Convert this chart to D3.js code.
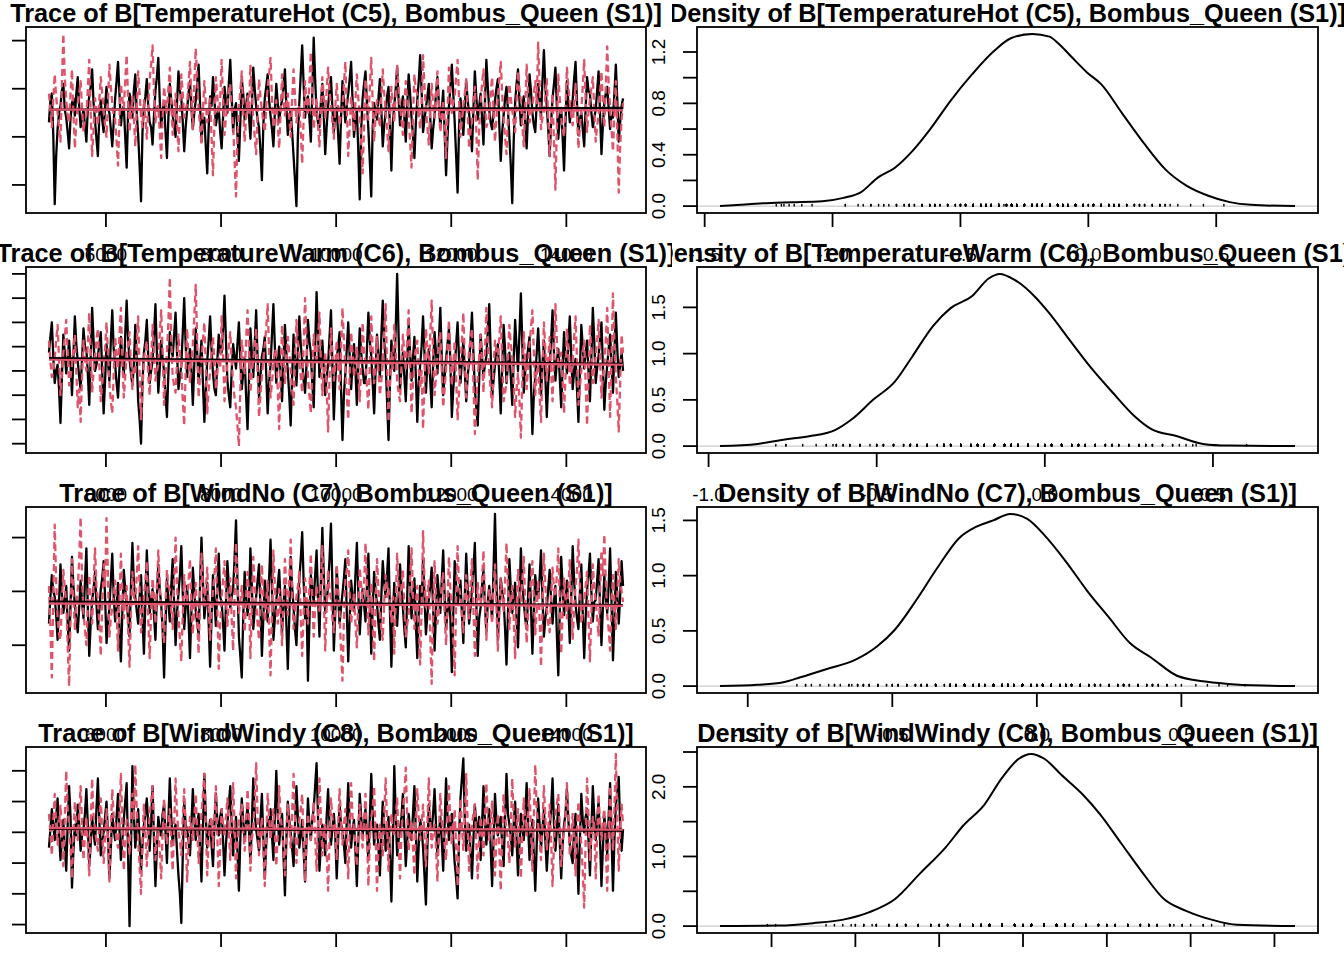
<!DOCTYPE html>
<html><head><meta charset="utf-8">
<script src="https://cdn.jsdelivr.net/npm/d3@7"></script>
<style>body{margin:0;background:#fff}svg{display:block}</style>
</head><body>
<svg id="c" width="1344" height="960"></svg>
<script>
// ---------------- DATA ----------------
const iterations = d3.range(5010, 15000, 25);           // thinned iteration index (400 samples per chain)
const iterTicks = [6000, 8000, 10000, 12000, 14000];
const iterTickLabels = ["6000", "8000", "10000", "12000", "14000"];
const paramNames = ["TemperatureHot (C5)", "TemperatureWarm (C6)", "WindNo (C7)", "WindWindy (C8)"];
const speciesName = "Bombus_Queen (S1)";

// ---- TemperatureHot (C5) ----
const chain1_P1 = [
-0.35,-0.12,-0.05,-0.48,-1.20,-0.70,-0.42,-0.25,-0.18,-0.02,0.05,-0.22,-0.30,-0.45,-0.62,-0.30,-0.15,-0.10,-0.28,-0.05,
0.12,-0.18,-0.40,-0.30,-0.22,-0.38,-0.55,-0.20,-0.08,0.02,0.20,-0.15,-0.33,-0.52,-0.70,-0.28,-0.12,-0.32,-0.45,-0.18,
0.02,-0.20,-0.25,-0.42,-0.60,-0.35,-0.10,0.08,0.28,-0.05,-0.38,-0.22,-0.18,-0.50,-0.82,-0.25,-0.05,-0.15,-0.30,-0.02,
0.15,-0.25,-0.48,-0.80,-1.17,-0.45,-0.20,-0.08,0.10,-0.18,-0.35,-0.40,-0.58,-0.28,-0.02,0.12,0.32,-0.12,-0.40,-0.22,
-0.15,-0.45,-0.72,-0.30,0.05,-0.12,-0.28,-0.38,-0.50,-0.15,0.18,-0.02,-0.10,-0.35,-0.65,-0.40,-0.22,-0.05,0.08,-0.20,
-0.42,-0.25,-0.12,0.05,0.25,-0.15,-0.55,-0.32,-0.30,-0.60,-0.88,-0.40,-0.08,-0.18,0.12,-0.10,-0.38,-0.28,-0.20,-0.45,
-0.62,-0.30,0.02,-0.12,-0.25,0.05,0.30,-0.08,-0.45,-0.22,-0.15,-0.48,-0.75,-0.35,0.10,-0.05,-0.32,-0.18,-0.05,-0.28,
-0.52,-0.20,0.22,0.00,-0.18,-0.32,-0.40,-0.65,-0.95,-0.38,-0.10,0.02,0.15,-0.12,-0.28,-0.42,-0.60,-0.25,0.05,-0.15,
-0.35,-0.20,-0.12,0.02,0.20,-0.18,-0.48,-0.30,-0.22,-0.45,-0.70,-0.95,-1.22,-0.50,-0.15,0.15,0.45,0.05,-0.30,-0.12,
-0.08,-0.30,-0.55,-0.05,0.53,0.10,-0.25,-0.35,-0.40,-0.15,0.05,-0.28,-0.68,-0.40,-0.18,-0.02,0.12,-0.20,-0.45,-0.28,
-0.20,-0.48,-0.78,-0.30,0.08,-0.15,-0.35,-0.18,-0.05,0.10,0.28,-0.12,-0.50,-0.32,-0.22,-0.65,-1.15,-0.42,-0.10,0.05,
0.18,-0.15,-0.42,-0.75,-1.12,-0.40,-0.15,-0.25,-0.32,-0.10,0.10,-0.22,-0.60,-0.38,-0.25,-0.08,0.02,-0.40,-0.85,-0.35,
-0.18,0.00,0.22,-0.10,-0.38,-0.20,-0.08,-0.30,-0.55,-0.18,0.15,-0.05,-0.30,-0.48,-0.72,-0.35,-0.12,0.08,0.35,-0.02,
-0.45,-0.32,-0.20,-0.08,0.05,-0.30,-0.62,-0.42,-0.28,-0.05,0.12,-0.15,-0.40,-0.22,-0.02,-0.45,-0.90,-0.50,-0.18,0.02,
0.25,-0.05,-0.35,-0.70,-1.08,-0.42,-0.10,-0.28,-0.48,-0.20,0.08,-0.12,-0.25,-0.45,-0.65,-0.22,0.18,-0.08,-0.32,-0.18,
-0.05,-0.30,-0.58,-0.15,0.30,0.02,-0.22,-0.35,-0.42,-0.25,-0.12,0.00,0.10,-0.38,-0.75,-0.45,-0.28,-0.10,0.02,-0.22,
-0.50,-0.80,-1.19,-0.55,-0.15,0.05,0.20,-0.12,-0.38,-0.20,-0.08,-0.35,-0.62,-0.25,0.15,-0.02,-0.25,-0.38,-0.45,-0.15,
0.05,-0.12,-0.30,0.08,0.40,0.02,-0.18,-0.42,-0.70,-0.35,-0.10,0.05,0.22,-0.18,-0.52,-0.30,-0.20,-0.50,-0.85,-0.35,
0.08,-0.15,-0.35,-0.22,-0.12,0.10,0.28,-0.15,-0.48,-0.32,-0.25,-0.42,-0.60,-0.20,0.12,-0.02,-0.05,-0.25,-0.40,-0.30,
-0.22,-0.02,0.18,-0.25,-0.68,-0.38,-0.15,-0.05,0.02,-0.20,-0.42,-0.28,-0.30,-0.05,0.25,-0.12,-0.55,-0.35,-0.18,-0.10];
const chain2_P1 = [
-0.05,-0.22,-0.40,-0.10,0.15,-0.08,-0.25,-0.42,-0.55,0.05,0.57,0.12,-0.12,-0.28,-0.35,-0.05,0.20,-0.25,-0.62,-0.35,
-0.18,-0.05,0.08,-0.20,-0.45,-0.32,-0.28,0.00,0.30,-0.25,-0.70,-0.42,-0.10,-0.22,-0.38,-0.12,0.12,-0.05,-0.22,-0.38,
-0.50,-0.15,0.25,0.02,-0.15,-0.28,-0.32,-0.55,-0.80,-0.30,0.05,-0.10,-0.20,0.08,0.35,-0.12,-0.45,-0.25,-0.08,-0.30,
-0.60,-0.22,0.18,-0.05,-0.28,-0.40,-0.12,-0.30,-0.52,-0.18,0.10,0.25,0.45,-0.02,-0.35,-0.20,-0.18,-0.45,-0.72,-0.30,
0.02,-0.15,-0.25,0.00,0.22,-0.18,-0.48,-0.22,-0.05,-0.35,-0.65,-0.28,0.15,-0.05,-0.30,-0.22,-0.15,0.05,0.28,-0.10,
-0.42,0.05,0.42,0.10,-0.20,-0.38,-0.58,-0.25,0.08,-0.15,-0.35,-0.22,-0.10,-0.50,-0.90,-0.35,0.12,-0.08,-0.25,-0.12,
0.30,-0.10,-0.48,-0.30,-0.15,-0.02,0.05,-0.20,-0.38,-0.75,-1.12,-0.50,-0.20,-0.02,0.18,-0.22,-0.55,-0.30,-0.08,-0.25,
0.25,-0.05,-0.32,-0.50,-0.68,-0.25,0.10,-0.08,-0.22,-0.35,-0.45,-0.20,0.02,0.15,0.32,-0.10,-0.40,-0.28,-0.12,-0.35,
-0.62,-0.25,0.15,-0.10,-0.28,-0.15,-0.05,-0.30,-0.50,-0.12,0.20,-0.08,-0.35,-0.22,-0.18,-0.45,-0.78,-0.32,0.08,-0.15,
-0.25,0.05,0.38,-0.05,-0.42,-0.25,-0.10,-0.38,-0.60,-0.22,0.12,-0.08,-0.30,-0.02,0.22,-0.05,-0.15,-0.35,-0.52,-0.20,
0.05,-0.18,-0.38,-0.25,-0.20,0.05,0.28,-0.22,-0.70,-0.40,-0.08,-0.25,-0.45,-0.12,0.15,-0.10,-0.25,-0.55,-0.88,-0.40,
0.10,-0.12,-0.32,0.00,0.32,-0.15,-0.55,-0.30,-0.12,-0.28,-0.40,-0.08,0.20,-0.05,-0.22,-0.42,-0.65,-0.30,0.02,-0.18,
-0.35,-0.05,0.25,0.00,-0.18,-0.32,-0.48,-0.15,0.08,-0.12,-0.28,-0.55,-0.82,-0.30,0.15,-0.02,-0.05,-0.25,-0.42,-0.20,
0.35,0.02,-0.20,-0.40,-0.58,-0.22,0.05,-0.15,-0.30,-0.05,0.18,-0.18,-0.45,-0.30,-0.12,-0.40,-0.72,-0.25,0.22,-0.08,
-0.25,-0.15,-0.08,0.12,0.30,-0.10,-0.50,-0.32,-0.18,-0.05,0.10,-0.25,-0.62,-0.45,-0.35,-0.12,0.02,-0.40,-0.95,-0.42,
-0.15,0.05,0.20,-0.12,-0.40,-0.35,-0.28,-0.05,0.12,-0.22,-0.55,-0.30,-0.08,0.10,0.28,-0.05,-0.32,-0.50,-0.68,-0.30,
0.05,-0.10,-0.22,-0.35,-0.45,-0.12,0.18,0.00,-0.12,-0.38,-0.60,-0.20,0.25,-0.05,-0.35,-0.28,-0.18,-0.05,0.08,-0.15,
0.48,0.05,-0.42,-0.30,-0.25,-0.08,0.10,-0.30,-0.70,-0.35,-0.05,-0.55,-1.05,-0.40,0.15,-0.10,-0.30,-0.42,-0.50,-0.20,
0.22,0.02,-0.15,-0.28,-0.38,-0.15,0.05,-0.30,-0.62,-0.40,-0.22,0.02,0.30,-0.12,-0.45,-0.25,-0.10,0.00,0.12,-0.22,
-0.55,-0.38,-0.28,-0.05,0.18,-0.15,-0.40,0.02,0.44,0.05,-0.20,-0.42,-0.65,-0.25,0.08,-0.45,-1.08,-0.60,-0.32,-0.15];
const lowess1_P1 = [-0.217, -0.210, -0.199];
const lowess2_P1 = [-0.217, -0.220, -0.224];
const densX_P1 = [-1.44,-1.242,-1.158,-1.04,-0.957,-0.89,-0.823,-0.756,-0.689,-0.621,-0.538,-0.454,-0.37,-0.303,-0.219,-0.152,-0.118,-0.068,-0.004,0.05,0.133,0.217,0.301,0.385,0.469,0.553,0.637,0.808];
const densY_P1 = [0,0.025,0.03,0.038,0.064,0.107,0.222,0.299,0.426,0.592,0.822,1.027,1.205,1.307,1.341,1.32,1.269,1.167,1.039,0.95,0.72,0.49,0.286,0.158,0.081,0.031,0.01,0];
const traceYTicks_P1 = [-1.0, -0.5, 0.0, 0.5];
const densXTicks_P1 = [-1.5, -1.0, -0.5, 0.0, 0.5];
const densXLabels_P1 = ["-1.5", "-1.0", "-0.5", "0.0", "0.5"];
const densYTicks_P1 = [0, 0.2, 0.4, 0.6, 0.8, 1.0, 1.2];
const densYLabelVals_P1 = [0, 0.4, 0.8, 1.2];
const densYLabels_P1 = ["0.0", "0.4", "0.8", "1.2"];

// ---- TemperatureWarm (C6) ----
const chain1_P2 = [
-0.05,0.08,0.20,-0.08,-0.30,-0.20,-0.15,-0.35,-0.63,-0.25,0.10,-0.05,-0.22,-0.10,0.05,-0.15,-0.40,-0.08,0.25,0.02,
-0.12,-0.25,-0.35,-0.10,0.15,0.00,-0.02,-0.22,-0.48,-0.10,0.32,0.05,-0.20,-0.15,-0.08,0.02,0.12,-0.20,-0.55,-0.28,
0.02,-0.12,-0.28,0.05,0.30,-0.02,-0.15,-0.30,-0.42,-0.18,0.08,-0.10,-0.25,0.10,0.38,0.05,-0.10,-0.22,-0.32,-0.15,
0.18,-0.10,-0.45,-0.60,-0.80,-0.30,-0.05,0.05,0.22,-0.08,-0.30,-0.20,-0.12,0.10,0.35,-0.05,-0.38,-0.18,0.05,-0.10,
-0.20,-0.40,-0.58,-0.22,0.12,-0.02,-0.08,0.10,0.28,-0.05,-0.35,-0.25,-0.15,0.12,0.40,0.02,-0.25,-0.12,-0.02,-0.18,
-0.48,-0.15,0.15,-0.05,-0.30,-0.12,0.05,-0.30,-0.62,-0.35,-0.12,0.05,0.25,-0.02,-0.22,-0.35,-0.40,-0.12,0.10,-0.05,
-0.05,0.15,0.42,0.05,-0.28,-0.40,-0.50,-0.20,0.02,-0.08,-0.18,0.02,0.20,-0.10,-0.35,-0.22,-0.10,-0.40,-0.68,-0.30,
0.15,-0.05,-0.25,0.02,0.30,-0.10,-0.42,-0.25,-0.08,-0.02,0.08,-0.22,-0.55,-0.30,-0.15,0.10,0.35,0.00,-0.30,-0.12,
0.00,-0.22,-0.45,-0.12,0.18,-0.05,-0.20,-0.40,-0.65,-0.25,0.10,-0.10,-0.32,-0.05,0.25,0.02,-0.12,-0.28,-0.38,-0.15,
0.22,0.05,-0.05,-0.30,-0.50,0.00,0.45,0.10,-0.25,-0.12,0.05,-0.18,-0.40,-0.25,-0.15,0.08,0.30,-0.15,-0.60,-0.28,
-0.10,0.00,0.12,-0.35,-0.77,-0.40,-0.22,-0.02,0.20,-0.08,-0.35,-0.15,0.02,-0.20,-0.48,-0.15,0.15,-0.05,-0.18,-0.30,
-0.30,-0.02,0.28,0.05,-0.08,-0.30,-0.55,-0.20,0.10,-0.10,-0.25,0.08,0.38,0.05,-0.12,-0.45,-0.77,-0.30,0.05,-0.10,
-0.20,0.15,0.60,0.10,-0.35,-0.18,-0.05,-0.25,-0.45,-0.12,0.18,-0.05,-0.28,-0.10,0.08,-0.25,-0.62,-0.30,-0.15,0.00,
0.25,-0.05,-0.38,-0.15,-0.02,-0.28,-0.50,-0.15,0.12,-0.05,-0.22,0.05,0.32,-0.08,-0.40,-0.25,-0.10,0.02,0.15,-0.12,
-0.58,-0.35,-0.18,0.02,0.20,-0.10,-0.30,-0.12,0.05,-0.20,-0.45,-0.25,-0.12,0.05,0.28,-0.05,-0.35,-0.50,-0.65,-0.28,
0.10,-0.08,-0.25,-0.15,-0.08,0.12,0.35,-0.05,-0.42,-0.28,-0.15,-0.02,0.02,-0.25,-0.55,-0.18,0.18,-0.02,-0.30,-0.15,
-0.05,-0.25,-0.48,-0.10,0.22,0.00,-0.20,0.10,0.44,0.02,-0.38,-0.20,-0.12,-0.02,0.08,-0.30,-0.72,-0.40,-0.25,-0.05,
0.15,-0.10,-0.40,-0.15,0.05,-0.25,-0.58,-0.30,-0.15,0.05,0.30,-0.05,-0.28,-0.12,-0.02,-0.25,-0.50,-0.18,0.12,-0.08,
-0.22,0.02,0.25,-0.08,-0.35,-0.20,-0.10,-0.35,-0.62,-0.20,0.18,0.00,-0.18,-0.05,0.05,-0.20,-0.45,-0.08,0.32,0.05,
-0.30,-0.18,-0.08,0.05,0.20,-0.15,-0.52,-0.30,-0.15,-0.02,0.10,-0.12,-0.38,-0.05,0.28,-0.02,-0.25,-0.15,-0.05,-0.20];
const chain2_P2 = [
0.05,-0.12,-0.25,-0.20,-0.10,0.05,0.18,-0.10,-0.40,-0.22,-0.05,0.08,0.22,-0.05,-0.32,-0.25,-0.15,-0.02,0.10,-0.20,
-0.50,-0.35,-0.62,-0.25,0.05,-0.10,-0.20,0.02,0.28,-0.05,-0.38,-0.20,-0.08,0.05,0.15,-0.15,-0.45,-0.30,-0.12,-0.02,
0.20,-0.05,-0.30,-0.45,-0.55,-0.22,0.08,-0.08,-0.18,0.10,0.32,-0.10,-0.42,-0.25,-0.05,0.02,0.12,-0.15,-0.35,-0.18,
-0.22,0.02,0.25,-0.20,-0.60,-0.35,-0.10,-0.02,0.05,-0.25,-0.40,-0.12,0.18,-0.05,-0.28,-0.20,-0.15,0.10,0.30,-0.05,
-0.48,-0.22,-0.05,0.20,0.57,0.05,-0.25,-0.32,-0.38,-0.12,0.10,-0.05,-0.18,-0.45,-0.65,-0.20,0.15,-0.10,-0.30,-0.12,
0.02,0.25,0.51,0.05,-0.42,-0.25,-0.12,0.05,0.20,-0.15,-0.55,-0.35,-0.20,-0.05,0.08,-0.12,-0.35,-0.22,-0.08,-0.18,
0.25,-0.05,-0.45,-0.28,-0.15,0.00,0.12,-0.12,-0.30,-0.42,-0.50,-0.65,-0.82,-0.35,0.05,-0.08,-0.22,0.05,0.30,0.00,
-0.38,-0.22,-0.10,0.02,0.15,-0.20,-0.58,-0.40,-0.25,-0.10,0.02,0.15,0.35,-0.05,-0.42,-0.30,-0.15,-0.02,-0.05,-0.35,
-0.68,-0.25,0.18,-0.08,-0.30,-0.15,0.08,-0.05,-0.20,-0.35,-0.48,-0.12,0.22,0.02,-0.12,-0.25,-0.38,0.02,0.40,0.05,
-0.25,-0.40,-0.55,-0.20,0.10,-0.05,-0.15,0.05,0.28,-0.10,-0.40,-0.22,-0.05,-0.35,-0.70,-0.25,0.15,-0.08,-0.28,-0.15,
0.05,-0.15,-0.35,-0.02,0.32,0.05,-0.18,-0.40,-0.60,-0.22,0.12,-0.05,-0.25,-0.12,0.00,-0.22,-0.45,-0.15,0.20,-0.05,
-0.12,-0.32,-0.52,-0.15,0.25,-0.02,-0.30,-0.12,0.08,-0.20,-0.40,-0.28,-0.15,0.12,0.35,-0.15,-0.62,-0.30,-0.05,-0.18,
0.18,-0.05,-0.28,-0.38,-0.45,-0.15,0.10,-0.05,-0.20,0.05,0.30,-0.12,-0.55,-0.30,-0.10,-0.02,0.05,-0.18,-0.35,-0.20,
-0.68,-0.30,0.15,-0.02,-0.22,0.10,0.38,-0.05,-0.40,-0.25,-0.08,0.02,0.12,-0.20,-0.50,-0.35,-0.18,0.00,0.22,-0.08,
-0.32,-0.15,0.05,-0.25,-0.60,-0.38,-0.15,0.05,0.28,-0.08,-0.42,-0.20,-0.02,0.05,0.15,-0.30,-0.72,-0.45,-0.25,-0.10,
0.10,-0.12,-0.38,-0.05,0.32,0.05,-0.20,-0.35,-0.50,-0.18,0.05,-0.02,-0.12,0.08,0.25,-0.12,-0.45,-0.38,-0.30,-0.10,
0.18,0.02,-0.08,-0.30,-0.58,-0.35,-0.22,-0.45,-0.75,-0.30,0.12,-0.10,-0.35,-0.15,0.02,0.15,0.30,-0.05,-0.40,-0.22,
-0.15,-0.40,-0.62,-0.20,0.20,-0.02,-0.28,-0.10,0.08,-0.20,-0.45,-0.05,0.35,0.05,-0.18,-0.12,-0.05,-0.30,-0.55,-0.25,
0.15,-0.05,-0.32,-0.22,-0.12,0.08,0.25,-0.12,-0.48,-0.35,-0.20,-0.05,0.05,-0.30,-0.65,-0.25,0.18,-0.05,-0.30,-0.18,
-0.08,0.05,0.22,-0.10,-0.42,-0.25,-0.15,0.05,0.32,-0.15,-0.58,-0.10,0.44,0.05,-0.25,-0.45,-0.70,-0.30,0.10,-0.05];
const lowess1_P2 = [-0.094, -0.118, -0.141];
const lowess2_P2 = [-0.108, -0.130, -0.149];
const densX_P2 = [-0.966,-0.854,-0.777,-0.701,-0.624,-0.574,-0.51,-0.446,-0.395,-0.332,-0.281,-0.217,-0.166,-0.134,-0.09,-0.026,0.012,0.075,0.139,0.203,0.266,0.317,0.394,0.47,0.546,0.744];
const densY_P2 = [0,0.024,0.07,0.106,0.173,0.29,0.503,0.698,0.964,1.301,1.489,1.62,1.815,1.862,1.798,1.602,1.443,1.141,0.84,0.574,0.326,0.184,0.106,0.024,0.006,0];
const traceYTicks_P2 = [-0.8, -0.6, -0.4, -0.2, 0.0, 0.2, 0.4, 0.6];
const densXTicks_P2 = [-1.0, -0.5, 0.0, 0.5];
const densXLabels_P2 = ["-1.0", "-0.5", "0.0", "0.5"];
const densYTicks_P2 = [0, 0.5, 1.0, 1.5];
const densYLabelVals_P2 = [0, 0.5, 1.0, 1.5];
const densYLabels_P2 = ["0.0", "0.5", "1.0", "1.5"];

// ---- WindNo (C7) ----
const chain1_P3 = [
-0.30,-0.05,0.15,0.00,-0.05,-0.22,-0.45,-0.10,0.25,-0.02,-0.20,-0.08,0.05,-0.30,-0.55,-0.12,0.32,0.05,-0.12,-0.25,
-0.38,-0.15,0.10,-0.10,-0.25,0.08,0.40,-0.15,-0.60,-0.30,-0.08,0.02,0.18,-0.12,-0.35,-0.18,0.02,0.12,0.28,-0.05,
-0.48,-0.30,-0.15,0.10,0.35,-0.05,-0.28,-0.12,0.08,-0.35,-0.65,-0.20,0.20,0.02,-0.10,-0.25,-0.42,0.05,0.45,0.08,
-0.05,-0.18,-0.30,-0.05,0.15,-0.25,-0.58,-0.10,0.38,0.05,-0.20,-0.08,0.02,-0.22,-0.45,-0.05,0.25,0.02,-0.12,-0.35,
-0.80,-0.30,0.12,-0.10,-0.28,0.05,0.30,-0.12,-0.50,-0.20,-0.02,0.15,0.42,-0.02,-0.35,-0.15,0.05,-0.25,-0.62,-0.20,
0.22,0.00,-0.18,-0.30,-0.40,0.05,0.50,0.10,-0.25,-0.10,0.08,-0.30,-0.70,-0.25,0.15,-0.08,-0.32,0.02,0.35,-0.05,
-0.10,-0.30,-0.55,-0.12,0.28,0.05,-0.15,-0.05,0.02,0.30,0.66,0.10,-0.42,-0.60,-0.80,-0.25,0.18,-0.05,-0.22,-0.10,
0.40,0.05,-0.35,-0.18,-0.05,0.10,0.25,-0.15,-0.60,-0.25,0.10,-0.05,-0.28,0.12,0.48,0.02,-0.45,-0.25,-0.08,0.05,
0.20,-0.10,-0.38,-0.12,0.05,-0.30,-0.72,-0.25,0.32,0.05,-0.15,-0.35,-0.50,-0.15,0.12,0.30,0.55,0.10,-0.25,-0.08,
-0.83,-0.30,0.15,0.02,-0.10,0.15,0.38,-0.05,-0.42,0.10,0.59,0.15,-0.20,-0.10,0.05,0.30,0.63,0.05,-0.55,-0.20,
0.22,-0.05,-0.30,-0.15,-0.02,0.12,0.30,-0.20,-0.65,-0.25,0.10,-0.05,-0.18,0.15,0.45,0.00,-0.40,-0.15,0.02,-0.12,
-0.28,0.05,0.35,-0.10,-0.58,-0.15,0.18,0.02,-0.12,-0.30,-0.45,-0.05,0.28,0.08,-0.05,0.15,0.40,-0.20,-0.70,-0.25,
0.08,-0.10,-0.32,-0.05,0.25,0.02,-0.15,-0.35,-0.52,-0.05,0.42,0.05,-0.25,-0.05,0.12,-0.30,-0.62,-0.20,0.05,-0.12,
0.30,-0.05,-0.40,-0.22,-0.08,0.05,0.22,-0.15,-0.55,-0.20,0.15,-0.02,-0.20,0.10,0.38,-0.05,-0.35,-0.18,-0.02,-0.25,
-0.75,-0.20,0.28,0.05,-0.12,-0.02,0.10,-0.20,-0.48,-0.05,0.35,0.02,-0.30,-0.15,0.02,0.20,0.45,-0.10,-0.60,-0.25,
-0.15,0.05,0.20,-0.12,-0.38,-0.10,0.05,-0.12,-0.25,0.20,0.72,0.10,-0.45,-0.15,0.12,0.00,-0.08,-0.35,-0.68,-0.22,
0.30,0.02,-0.20,-0.05,0.08,-0.25,-0.52,-0.10,0.40,0.05,-0.10,-0.25,-0.35,-0.05,0.25,-0.15,-0.58,-0.20,0.15,-0.02,
-0.05,0.12,0.38,-0.05,-0.42,-0.25,-0.15,0.02,0.20,-0.08,-0.30,-0.10,0.05,-0.40,-0.78,-0.20,0.32,0.05,-0.22,-0.10,
0.10,-0.15,-0.48,-0.05,0.42,0.10,-0.12,-0.25,-0.35,-0.02,0.25,-0.20,-0.62,-0.25,0.02,0.15,0.35,0.00,-0.28,-0.10,
-0.08,0.10,0.30,-0.12,-0.50,-0.15,0.15,-0.05,-0.20,0.05,0.40,-0.10,-0.64,-0.25,0.18,-0.05,-0.30,-0.05,0.28,0.05];
const chain2_P3 = [
0.05,-0.35,-0.80,-0.05,0.62,0.10,-0.25,-0.40,-0.45,-0.10,0.20,0.02,-0.10,-0.50,-0.88,-0.25,0.30,-0.05,-0.35,-0.15,
0.02,0.30,0.69,0.10,-0.20,-0.35,-0.50,-0.15,0.15,-0.08,-0.30,0.05,0.40,0.05,-0.08,-0.30,-0.60,-0.15,0.25,0.05,
0.68,0.15,-0.42,-0.25,-0.15,-0.02,0.10,-0.20,-0.55,-0.10,0.35,0.02,-0.25,-0.08,0.05,-0.35,-0.70,-0.20,0.18,-0.05,
-0.12,0.15,0.42,0.02,-0.38,-0.20,-0.05,0.10,0.28,-0.25,-0.62,-0.20,0.12,-0.05,-0.30,0.05,0.38,0.05,-0.18,-0.35,
-0.48,-0.10,0.20,0.05,0.02,-0.18,-0.35,0.10,0.50,0.05,-0.22,-0.45,-0.65,-0.20,0.15,-0.05,-0.10,0.10,0.30,-0.10,
-0.40,-0.12,0.08,-0.25,-0.58,-0.10,0.35,0.05,-0.15,0.02,0.22,-0.15,-0.45,-0.20,0.02,0.15,0.40,-0.15,-0.72,-0.30,
-0.05,0.10,0.28,-0.05,-0.32,-0.10,0.12,-0.25,-0.55,-0.05,0.45,0.10,-0.20,-0.10,0.05,-0.15,-0.38,-0.08,0.18,-0.02,
-0.62,-0.15,0.32,0.05,-0.10,-0.30,-0.45,-0.05,0.25,-0.05,-0.28,-0.10,0.10,-0.35,-0.78,-0.20,0.38,0.05,-0.15,-0.30,
0.02,-0.20,-0.50,-0.10,0.30,0.05,-0.22,0.10,0.48,0.02,-0.35,-0.20,-0.05,0.05,0.18,-0.25,-0.60,-0.20,0.12,-0.05,
-0.30,0.02,0.35,-0.05,-0.42,-0.15,0.05,-0.05,-0.18,0.10,0.42,-0.05,-0.55,-0.15,0.20,0.02,-0.08,-0.25,-0.38,-0.12,
0.25,0.02,-0.20,-0.55,-0.83,-0.25,0.10,0.20,0.38,-0.02,-0.30,-0.15,-0.02,-0.30,-0.52,-0.10,0.22,0.05,-0.12,0.05,
0.45,0.05,-0.40,-0.12,0.08,-0.30,-0.65,-0.15,0.30,0.02,-0.18,-0.35,-0.45,-0.10,0.15,-0.05,0.02,-0.12,-0.28,-0.05,
-0.58,-0.10,0.35,0.05,-0.10,0.05,0.20,-0.15,-0.42,-0.30,-0.22,0.10,0.40,-0.02,-0.35,-0.12,0.05,-0.30,-0.68,-0.15,
0.56,0.10,-0.15,-0.02,0.10,-0.40,-0.86,-0.20,0.28,-0.05,-0.30,-0.18,-0.08,0.05,0.18,-0.20,-0.50,-0.10,0.32,0.02,
-0.20,-0.45,-0.78,-0.10,0.42,0.05,-0.05,-0.22,-0.38,-0.10,0.15,-0.08,-0.25,0.05,0.30,-0.15,-0.60,-0.25,0.08,-0.10,
-0.12,0.10,0.38,-0.05,-0.45,-0.15,0.02,-0.12,-0.30,0.02,0.25,-0.15,-0.55,-0.20,0.12,-0.05,-0.18,0.10,0.45,0.05,
-0.35,-0.12,0.05,-0.25,-0.62,-0.15,0.20,0.02,-0.10,0.10,0.32,-0.10,-0.48,-0.22,-0.02,0.10,0.28,-0.05,-0.40,-0.18,
0.10,-0.25,-0.70,-0.15,0.35,0.05,-0.15,-0.30,-0.38,-0.05,0.22,0.02,-0.05,0.15,0.40,-0.10,-0.58,-0.20,0.12,-0.05,
-0.25,0.02,0.30,-0.10,-0.45,-0.15,0.05,0.20,0.48,0.05,-0.30,-0.20,-0.12,0.05,0.18,-0.25,-0.65,-0.20,0.25,0.02,
-0.08,-0.25,-0.42,-0.02,0.38,0.15,0.53,0.10,-0.22,-0.35,-0.55,-0.15,0.15,-0.10,-0.35,-0.05,0.30,0.10,0.00,-0.10];
const lowess1_P3 = [-0.094, -0.111, -0.128];
const lowess2_P3 = [-0.113, -0.124, -0.134];
const densX_P3 = [-1.096,-0.966,-0.877,-0.818,-0.729,-0.625,-0.552,-0.492,-0.418,-0.344,-0.27,-0.211,-0.151,-0.092,-0.033,0.026,0.1,0.174,0.248,0.322,0.396,0.485,0.574,0.663,0.782,0.893];
const densY_P3 = [0,0.012,0.035,0.08,0.153,0.242,0.361,0.508,0.775,1.071,1.337,1.441,1.5,1.559,1.514,1.367,1.13,0.863,0.626,0.39,0.257,0.094,0.044,0.02,0.005,0];
const traceYTicks_P3 = [-0.5, 0.0, 0.5];
const densXTicks_P3 = [-1.0, -0.5, 0.0, 0.5];
const densXLabels_P3 = ["-1.0", "-0.5", "0.0", "0.5"];
const densYTicks_P3 = [0, 0.5, 1.0, 1.5];
const densYLabelVals_P3 = [0, 0.5, 1.0, 1.5];
const densYLabels_P3 = ["0.0", "0.5", "1.0", "1.5"];

// ---- WindWindy (C8) ----
const chain1_P4 = [
-0.10,0.02,0.15,0.05,-0.05,0.10,0.22,0.00,-0.18,-0.05,0.08,-0.10,-0.25,0.05,0.30,0.10,-0.36,-0.12,0.05,-0.02,
0.18,0.05,-0.12,-0.02,0.02,0.12,0.28,0.05,-0.22,-0.08,0.10,0.00,-0.08,0.15,0.35,0.08,-0.15,-0.05,0.00,0.10,
0.20,-0.02,-0.30,-0.10,0.12,0.02,-0.05,0.10,0.25,0.02,-0.18,-0.05,0.08,0.20,0.32,-0.15,-0.61,-0.10,0.43,0.12,
-0.10,0.02,0.15,-0.05,-0.25,-0.08,0.05,0.12,0.22,0.05,-0.12,0.08,0.30,-0.05,-0.35,-0.10,0.10,0.02,-0.02,0.12,
0.18,0.00,-0.20,0.08,0.35,0.10,-0.08,0.02,0.05,-0.12,-0.28,-0.40,-0.59,-0.15,0.20,0.05,0.02,-0.05,-0.15,0.05,
0.28,0.10,-0.05,0.05,0.12,-0.10,-0.32,0.02,0.38,0.10,-0.10,0.00,0.08,-0.08,-0.22,0.05,0.25,0.08,-0.02,0.10,
0.15,-0.05,-0.28,-0.08,0.05,0.18,0.30,0.05,-0.15,-0.02,0.10,-0.12,-0.38,-0.05,0.22,0.08,-0.05,0.05,0.18,0.02,
-0.20,0.05,0.35,0.12,0.02,-0.05,-0.12,0.08,0.25,-0.05,-0.30,-0.08,0.08,0.02,0.15,-0.02,-0.18,0.10,0.40,0.12,
-0.08,0.05,0.12,-0.15,-0.41,-0.05,0.20,0.08,0.00,-0.10,-0.22,0.05,0.30,0.10,-0.10,-0.02,0.08,-0.12,-0.32,-0.05,
0.22,0.05,-0.05,0.08,0.15,0.30,0.45,0.10,-0.25,-0.08,0.05,-0.02,-0.15,0.10,0.28,0.05,-0.08,0.02,0.12,-0.02,
-0.30,-0.05,0.18,0.05,0.02,-0.08,-0.20,0.08,0.32,0.05,-0.10,0.02,0.08,-0.12,-0.35,-0.05,0.25,0.10,-0.02,0.05,
0.15,-0.02,-0.18,0.10,0.38,0.12,-0.08,0.02,0.05,-0.10,-0.28,-0.02,0.20,0.05,-0.12,-0.02,0.10,-0.15,-0.45,-0.10,
0.43,0.12,-0.15,-0.05,0.02,0.10,0.25,0.02,-0.22,-0.05,0.12,0.02,-0.05,0.12,0.30,0.00,-0.32,-0.08,0.08,0.02,
-0.10,-0.28,-0.47,-0.10,0.18,0.05,0.02,0.12,0.28,0.05,-0.15,-0.02,0.10,-0.05,-0.25,0.05,0.35,0.10,-0.05,0.08,
0.12,-0.05,-0.20,-0.30,-0.43,-0.05,0.22,0.35,0.48,0.10,-0.12,-0.02,0.05,-0.12,-0.30,-0.05,0.18,0.05,0.00,0.10,
-0.18,0.05,0.30,0.08,-0.08,0.05,0.15,-0.10,-0.35,-0.05,0.25,0.08,-0.02,0.05,0.10,-0.08,-0.22,0.10,0.38,0.12,
0.05,-0.02,-0.15,0.05,0.20,-0.05,-0.28,-0.08,0.12,0.02,-0.05,0.10,0.32,0.05,-0.18,-0.02,0.08,-0.15,-0.38,-0.08,
0.22,0.05,-0.10,0.02,0.15,-0.05,-0.25,-0.08,0.02,0.15,0.35,0.05,-0.12,0.02,0.18,-0.05,-0.30,-0.08,0.05,0.12,
0.28,0.08,-0.08,-0.15,-0.20,0.02,0.12,-0.12,-0.40,-0.05,0.25,0.08,0.00,0.10,0.15,-0.05,-0.28,0.02,0.30,0.10,
-0.05,0.08,0.20,-0.05,-0.35,-0.10,0.10,0.02,-0.15,0.10,0.32,-0.02,-0.38,-0.05,0.18,0.25,0.36,0.05,-0.12,0.02];
const chain2_P4 = [
0.12,0.00,-0.15,0.08,0.25,0.05,-0.08,0.05,0.18,-0.02,-0.22,0.10,0.40,0.15,0.05,-0.10,-0.30,-0.02,0.20,0.05,
-0.05,0.12,0.30,0.05,-0.18,-0.02,0.10,-0.08,-0.28,0.05,0.35,0.10,0.02,-0.05,-0.12,0.08,0.22,0.00,-0.20,-0.05,
0.15,-0.05,-0.32,0.02,0.28,0.10,0.05,-0.05,-0.10,0.12,0.38,0.05,-0.25,-0.05,0.08,-0.02,-0.15,0.10,0.25,0.08,
0.44,0.15,-0.05,-0.22,-0.40,-0.05,0.18,0.02,-0.22,-0.05,0.12,0.20,0.30,0.05,-0.18,-0.05,0.02,-0.12,-0.30,0.00,
0.22,0.05,-0.08,0.05,0.15,-0.08,-0.25,0.05,0.35,0.12,0.00,-0.05,-0.15,0.10,0.28,0.02,-0.32,-0.10,0.10,0.02,
-0.05,0.10,0.25,0.02,-0.20,-0.05,0.12,0.25,0.38,0.05,-0.28,-0.05,0.05,0.10,-0.10,0.08,0.30,-0.02,-0.35,-0.10,
0.15,0.05,-0.02,0.10,0.22,0.02,-0.18,0.08,0.32,0.05,-0.30,-0.05,0.08,0.12,0.18,0.02,-0.12,0.05,0.28,0.10,
-0.25,-0.05,0.05,0.20,0.45,0.10,-0.15,-0.02,0.10,-0.12,-0.35,-0.05,0.25,0.10,-0.05,0.05,0.15,0.00,-0.22,-0.02,
0.30,0.10,0.02,-0.10,-0.28,0.02,0.18,0.05,-0.10,0.12,0.38,0.08,-0.20,-0.02,0.08,0.15,0.25,-0.05,-0.32,-0.05,
0.12,0.02,-0.05,0.08,0.20,-0.02,-0.25,0.05,0.35,0.10,-0.15,-0.02,0.05,-0.12,-0.38,-0.05,0.22,0.10,0.00,0.05,
-0.18,0.05,0.28,0.08,-0.08,0.05,0.15,-0.05,-0.30,0.02,0.32,0.10,0.02,-0.08,-0.22,0.05,0.18,0.02,-0.10,0.08,
0.25,-0.02,-0.35,-0.05,0.10,0.15,0.30,-0.02,-0.38,-0.10,0.05,-0.05,-0.15,0.12,0.35,0.05,-0.25,-0.05,0.12,0.02,
-0.02,0.10,0.22,-0.05,-0.30,0.00,0.15,0.25,0.42,0.10,-0.12,0.02,0.08,-0.10,-0.28,0.05,0.28,0.10,-0.05,0.05,
0.18,-0.02,-0.22,0.05,0.35,0.08,-0.10,0.02,0.05,-0.10,-0.32,0.00,0.25,0.08,0.00,-0.08,-0.18,0.10,0.30,0.05,
-0.08,0.05,0.15,-0.10,-0.35,-0.02,0.22,0.05,-0.12,0.10,0.38,0.05,-0.25,-0.05,0.05,0.12,0.18,-0.05,-0.30,-0.05,
0.10,-0.02,-0.15,0.10,0.32,0.08,-0.05,0.05,0.20,-0.02,-0.28,-0.05,0.12,-0.10,-0.38,-0.05,0.25,0.10,0.02,-0.05,
-0.20,0.05,0.35,0.10,-0.10,0.02,0.15,-0.05,-0.30,-0.02,0.22,0.08,-0.02,0.10,0.28,0.02,-0.25,0.10,0.44,0.15,
0.05,-0.05,-0.18,0.05,0.30,0.10,-0.12,0.02,0.18,-0.05,-0.35,-0.08,0.10,0.18,0.25,0.05,-0.22,-0.05,0.00,0.10,
0.32,0.08,-0.15,-0.02,0.12,-0.05,-0.28,0.02,0.20,0.05,-0.08,-0.25,-0.49,-0.05,0.35,0.10,-0.18,-0.02,0.10,0.05,
-0.30,-0.02,0.25,0.05,-0.05,0.08,0.15,-0.10,-0.38,-0.05,0.30,0.08,-0.12,0.15,0.51,0.10,-0.25,0.02,0.18,0.05];
const lowess1_P4 = [0.023, 0.016, 0.010];
const lowess2_P4 = [0.028, 0.022, 0.017];
const densX_P4 = [-0.723,-0.582,-0.501,-0.429,-0.368,-0.306,-0.245,-0.184,-0.143,-0.092,-0.051,-0.01,0.019,0.051,0.092,0.143,0.184,0.235,0.286,0.337,0.389,0.45,0.511,0.649];
const densY_P4 = [0,0.008,0.042,0.093,0.197,0.385,0.761,1.135,1.441,1.746,2.121,2.403,2.473,2.403,2.169,1.887,1.606,1.183,0.761,0.385,0.22,0.093,0.018,0];
const traceYTicks_P4 = [-0.6, -0.4, -0.2, 0.0, 0.2, 0.4];
const densXTicks_P4 = [-0.6, -0.4, -0.2, 0.0, 0.2, 0.4, 0.6];
const densXLabels_P4 = ["-0.6", "-0.4", "-0.2", "0.0", "0.2", "0.4", "0.6"];
const densYTicks_P4 = [0, 0.5, 1.0, 1.5, 2.0, 2.5];
const densYLabelVals_P4 = [0, 1.0, 2.0];
const densYLabels_P4 = ["0.0", "1.0", "2.0"];

// ---------------- LAYOUT ----------------
const W = 1344, H = 960, CELL_H = 240;
const BOX_T = 27, BOX_B = 213;
const TR_L = 26, TR_R = 646, DN_L = 697, DN_R = 1318;
const TICK = 14;
const RED = "#DF536B";
const FONT = "'Liberation Sans', Arial, Helvetica, sans-serif";
const TITLE_SIZE = 25.3, AXIS_SIZE = 19;
const TRACE_W = 2.3;

const panels = [
  {name: paramNames[0], c1: chain1_P1, c2: chain2_P1, lw1: lowess1_P1, lw2: lowess2_P1, dx: densX_P1, dy: densY_P1,
   tyt: traceYTicks_P1, dxt: densXTicks_P1, dxl: densXLabels_P1, dyt: densYTicks_P1, dylv: densYLabelVals_P1, dyl: densYLabels_P1},
  {name: paramNames[1], c1: chain1_P2, c2: chain2_P2, lw1: lowess1_P2, lw2: lowess2_P2, dx: densX_P2, dy: densY_P2,
   tyt: traceYTicks_P2, dxt: densXTicks_P2, dxl: densXLabels_P2, dyt: densYTicks_P2, dylv: densYLabelVals_P2, dyl: densYLabels_P2},
  {name: paramNames[2], c1: chain1_P3, c2: chain2_P3, lw1: lowess1_P3, lw2: lowess2_P3, dx: densX_P3, dy: densY_P3,
   tyt: traceYTicks_P3, dxt: densXTicks_P3, dxl: densXLabels_P3, dyt: densYTicks_P3, dylv: densYLabelVals_P3, dyl: densYLabels_P3},
  {name: paramNames[3], c1: chain1_P4, c2: chain2_P4, lw1: lowess1_P4, lw2: lowess2_P4, dx: densX_P4, dy: densY_P4,
   tyt: traceYTicks_P4, dxt: densXTicks_P4, dxl: densXLabels_P4, dyt: densYTicks_P4, dylv: densYLabelVals_P4, dyl: densYLabels_P4}
];

function pad(ext) { const r = ext[1] - ext[0]; return [ext[0] - 0.04 * r, ext[1] + 0.04 * r]; }

const svg = d3.select("#c");
svg.append("rect").attr("width", W).attr("height", H).attr("fill", "#fff");
const defs = svg.append("defs");
defs.append("clipPath").attr("id", "clipL").append("rect").attr("x", 0).attr("y", 0).attr("width", 672).attr("height", H);
defs.append("clipPath").attr("id", "clipR").append("rect").attr("x", 672).attr("y", 0).attr("width", 672).attr("height", H);

const xTrace = d3.scaleLinear().domain(pad(d3.extent(iterations))).range([TR_L, TR_R]);
const lowessIters = [iterations[0], (iterations[0] + iterations[iterations.length - 1]) / 2, iterations[iterations.length - 1]];

panels.forEach((p, r) => {
  const g = svg.append("g").attr("transform", `translate(0,${r * CELL_H})`);
  const yTrace = d3.scaleLinear().domain(pad(d3.extent(p.c1.concat(p.c2)))).range([BOX_B, BOX_T]);
  const xDen = d3.scaleLinear().domain(pad(d3.extent(p.dx))).range([DN_L, DN_R]);
  const dMax = d3.max(p.dy);
  const yDen = d3.scaleLinear().domain(pad([0, dMax])).range([BOX_B, BOX_T]);

  // ---- trace panel ----
  const tline = d3.line().x((d, i) => xTrace(iterations[i])).y(d => yTrace(d));
  g.append("path").attr("d", tline(p.c1)).attr("fill", "none").attr("stroke", "#000")
    .attr("stroke-width", TRACE_W).attr("stroke-linejoin", "round");
  g.append("path").attr("d", tline(p.c2)).attr("fill", "none").attr("stroke", RED)
    .attr("stroke-width", TRACE_W).attr("stroke-dasharray", "7,4").attr("stroke-linejoin", "round");
  const lline = d3.line().x((d, i) => xTrace(lowessIters[i])).y(d => yTrace(d)).curve(d3.curveMonotoneX);
  g.append("path").attr("d", lline(p.lw1)).attr("fill", "none").attr("stroke", "#000").attr("stroke-width", 2.2);
  g.append("path").attr("d", lline(p.lw2)).attr("fill", "none").attr("stroke", RED).attr("stroke-width", 2.2);

  g.append("rect").attr("x", TR_L).attr("y", BOX_T).attr("width", TR_R - TR_L).attr("height", BOX_B - BOX_T)
    .attr("fill", "none").attr("stroke", "#000").attr("stroke-width", 1.8);
  // y ticks (their labels fall outside the page, as in the original)
  g.selectAll(null).data(p.tyt).enter().append("line")
    .attr("x1", TR_L - TICK).attr("x2", TR_L).attr("y1", d => yTrace(d)).attr("y2", d => yTrace(d))
    .attr("stroke", "#000").attr("stroke-width", 1.8);
  // x ticks
  g.selectAll(null).data(iterTicks).enter().append("line")
    .attr("x1", d => xTrace(d)).attr("x2", d => xTrace(d)).attr("y1", BOX_B).attr("y2", BOX_B + TICK)
    .attr("stroke", "#000").attr("stroke-width", 1.8);
  if (r < panels.length - 1) {
    g.selectAll(null).data(iterTicks).enter().append("text")
      .attr("x", d => xTrace(d)).attr("y", BOX_B + 48).attr("text-anchor", "middle")
      .attr("font-family", FONT).attr("font-size", AXIS_SIZE).text((d, i) => iterTickLabels[i]);
  }

  // ---- density panel ----
  g.append("line").attr("x1", DN_L).attr("x2", DN_R).attr("y1", yDen(0)).attr("y2", yDen(0))
    .attr("stroke", "#bebebe").attr("stroke-width", 1);
  g.selectAll(null).data(p.c1).enter().append("line")
    .attr("x1", d => xDen(d)).attr("x2", d => xDen(d)).attr("y1", yDen(0)).attr("y2", yDen(dMax / 100))
    .attr("stroke", "#000").attr("stroke-width", 1.4).attr("stroke-linecap", "round");
  const dline = d3.line().x((d, i) => xDen(p.dx[i])).y(d => yDen(d)).curve(d3.curveMonotoneX);
  g.append("path").attr("d", dline(p.dy)).attr("fill", "none").attr("stroke", "#000").attr("stroke-width", 2);

  g.append("rect").attr("x", DN_L).attr("y", BOX_T).attr("width", DN_R - DN_L).attr("height", BOX_B - BOX_T)
    .attr("fill", "none").attr("stroke", "#000").attr("stroke-width", 1.8);
  g.selectAll(null).data(p.dyt).enter().append("line")
    .attr("x1", DN_L - TICK).attr("x2", DN_L).attr("y1", d => yDen(d)).attr("y2", d => yDen(d))
    .attr("stroke", "#000").attr("stroke-width", 1.8);
  g.selectAll(null).data(p.dylv).enter().append("text")
    .attr("transform", d => `translate(${DN_L - 32},${yDen(d)}) rotate(-90)`)
    .attr("text-anchor", "middle").attr("font-family", FONT).attr("font-size", AXIS_SIZE)
    .text((d, i) => p.dyl[i]);
  g.selectAll(null).data(p.dxt).enter().append("line")
    .attr("x1", d => xDen(d)).attr("x2", d => xDen(d)).attr("y1", BOX_B).attr("y2", BOX_B + TICK)
    .attr("stroke", "#000").attr("stroke-width", 1.8);
  if (r < panels.length - 1) {
    g.selectAll(null).data(p.dxt).enter().append("text")
      .attr("x", d => xDen(d)).attr("y", BOX_B + 48).attr("text-anchor", "middle")
      .attr("font-family", FONT).attr("font-size", AXIS_SIZE).text((d, i) => p.dxl[i]);
  }

  // ---- titles (clipped to their column, as R does) ----
  svg.append("text").attr("clip-path", "url(#clipL)")
    .attr("x", (TR_L + TR_R) / 2).attr("y", r * CELL_H + 22).attr("text-anchor", "middle")
    .attr("font-family", FONT).attr("font-weight", "bold").attr("font-size", TITLE_SIZE)
    .text(`Trace of B[${p.name}, ${speciesName}]`);
  svg.append("text").attr("clip-path", "url(#clipR)")
    .attr("x", (DN_L + DN_R) / 2).attr("y", r * CELL_H + 22).attr("text-anchor", "middle")
    .attr("font-family", FONT).attr("font-weight", "bold").attr("font-size", TITLE_SIZE)
    .text(`Density of B[${p.name}, ${speciesName}]`);
});
</script>
</body></html>
